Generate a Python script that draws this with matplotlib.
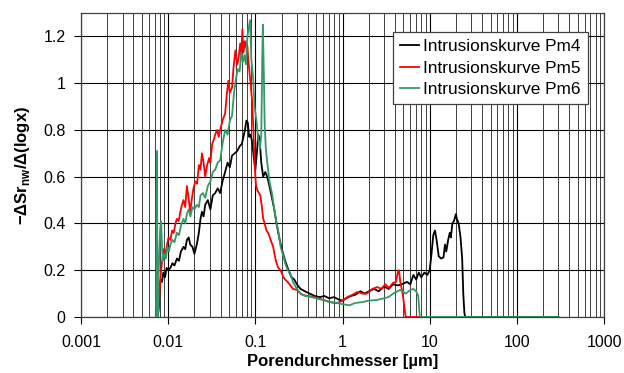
import matplotlib
matplotlib.use("Agg")
import matplotlib.pyplot as plt
from matplotlib.ticker import LogLocator, FixedLocator, NullFormatter

plt.rcParams['font.family'] = ['Liberation Sans', 'DejaVu Sans']
plt.rcParams['mathtext.fontset'] = 'custom'
plt.rcParams['mathtext.rm'] = 'Liberation Sans'

# Pore diameter [µm] and -ΔSr_nw/Δ(log x) for each intrusion curve
pm4_d = [0.0076, 0.0078, 0.0080, 0.0082, 0.0085, 0.0088, 0.0092, 0.0096, 0.0100, 0.0106,
         0.0112, 0.0118, 0.0126, 0.0133, 0.0140, 0.0150, 0.0157, 0.0164, 0.0172, 0.0179,
         0.0190, 0.0200, 0.0213, 0.0225, 0.0235, 0.0244, 0.0255, 0.0266, 0.0285, 0.0305,
         0.0325, 0.0346, 0.037, 0.0395, 0.042, 0.045, 0.048, 0.051, 0.054, 0.058,
         0.062, 0.066, 0.070, 0.073, 0.076, 0.079, 0.082, 0.085, 0.088, 0.092,
         0.096, 0.100, 0.104, 0.108, 0.112, 0.117, 0.123, 0.130, 0.137, 0.145,
         0.155, 0.165, 0.175, 0.19, 0.205, 0.22, 0.24, 0.26, 0.28, 0.30,
         0.33, 0.37, 0.42, 0.48, 0.55, 0.62, 0.70, 0.80, 0.90, 1.0,
         1.1, 1.25, 1.4, 1.6, 1.8, 2.0, 2.3, 2.6, 3.0, 3.4,
         3.8, 4.3, 4.8, 5.5, 6.0, 6.5, 7.0, 7.5, 8.0, 8.7,
         9.4, 10.0, 10.5, 11.0, 11.5, 12.0, 12.7, 13.5, 14.4, 15.0,
         15.5, 16.3, 17.0, 17.5, 18.2, 19.0, 20.0, 20.5, 21.5, 22.6,
         23.6, 24.3, 25.0, 25.5, 300.0]
pm4_v = [0.0, 0.04, 0.13, 0.16, 0.15, 0.19, 0.17, 0.21, 0.20, 0.21,
         0.23, 0.22, 0.25, 0.24, 0.28, 0.30, 0.29, 0.33, 0.34, 0.31,
         0.30, 0.27, 0.31, 0.36, 0.42, 0.45, 0.43, 0.48, 0.50, 0.46,
         0.52, 0.53, 0.55, 0.53, 0.58, 0.62, 0.66, 0.64, 0.69, 0.70,
         0.71, 0.73, 0.74, 0.77, 0.80, 0.84, 0.83, 0.77, 0.78, 0.75,
         0.68, 0.63, 0.70, 0.78, 0.76, 0.66, 0.60, 0.62, 0.60, 0.56,
         0.51, 0.46, 0.40, 0.33, 0.28, 0.24, 0.20, 0.17, 0.16, 0.14,
         0.12, 0.11, 0.10, 0.09, 0.085, 0.09, 0.08, 0.085, 0.075, 0.07,
         0.08, 0.09, 0.095, 0.11, 0.10, 0.11, 0.12, 0.11, 0.13, 0.12,
         0.14, 0.135, 0.14, 0.15, 0.14, 0.18, 0.16, 0.19, 0.17, 0.19,
         0.18, 0.20, 0.27, 0.35, 0.37, 0.33, 0.26, 0.25, 0.255, 0.31,
         0.28, 0.33, 0.36, 0.34, 0.40, 0.41, 0.44, 0.42, 0.40, 0.34,
         0.25, 0.10, 0.02, 0.0, 0.0]

pm5_d = [0.0076, 0.0078, 0.0080, 0.0083, 0.0086, 0.0089, 0.0093, 0.0097, 0.0101, 0.0106,
         0.0111, 0.0116, 0.0121, 0.0126, 0.0132, 0.0138, 0.0144, 0.0150, 0.0157, 0.0164,
         0.0170, 0.0179, 0.0186, 0.0195, 0.0205, 0.0215, 0.0225, 0.0235, 0.0244, 0.0255,
         0.0266, 0.0280, 0.0295, 0.0305, 0.0320, 0.0335, 0.0346, 0.0365, 0.0380, 0.0395,
         0.042, 0.045, 0.047, 0.049, 0.051, 0.054, 0.056, 0.059, 0.062, 0.064,
         0.067, 0.069, 0.071, 0.073, 0.076, 0.079, 0.081, 0.083, 0.085, 0.088,
         0.092, 0.095, 0.097, 0.100, 0.102, 0.106, 0.110, 0.114, 0.119, 0.123,
         0.128, 0.134, 0.140, 0.150, 0.160, 0.172, 0.183, 0.195, 0.21, 0.22,
         0.235, 0.25, 0.27, 0.30, 0.33, 0.35, 0.40, 0.46, 0.52, 0.60,
         0.70, 0.80, 0.87, 1.0, 1.15, 1.3, 1.48, 1.7, 1.9, 2.2,
         2.5, 2.8, 3.1, 3.4, 3.8, 4.1, 4.3, 4.45, 4.6, 4.9,
         5.1, 5.3, 8.0]
pm5_v = [0.0, 0.05, 0.12, 0.20, 0.25, 0.29, 0.27, 0.31, 0.34, 0.33,
         0.37, 0.36, 0.40, 0.42, 0.41, 0.45, 0.48, 0.50, 0.47, 0.56,
         0.52, 0.45, 0.50, 0.55, 0.58, 0.57, 0.65, 0.63, 0.70, 0.66,
         0.60, 0.65, 0.68, 0.66, 0.74, 0.76, 0.78, 0.80, 0.77, 0.80,
         0.84, 0.87, 0.95, 1.01, 0.96, 0.98, 1.06, 1.14, 1.08, 1.10,
         1.17, 1.12, 1.23, 1.13, 1.18, 1.15, 1.16, 1.10, 1.06, 1.00,
         0.92, 0.80, 0.70, 0.60, 0.56, 0.54, 0.53, 0.52, 0.47, 0.42,
         0.40, 0.37, 0.36, 0.33, 0.30, 0.24, 0.21, 0.20, 0.17, 0.16,
         0.15, 0.137, 0.12, 0.116, 0.10, 0.094, 0.09, 0.086, 0.08, 0.073,
         0.065, 0.06, 0.06, 0.07, 0.086, 0.095, 0.107, 0.10, 0.10, 0.12,
         0.128, 0.12, 0.14, 0.124, 0.146, 0.15, 0.19, 0.20, 0.15, 0.10,
         0.05, 0.0, 0.0]

pm6_d = [0.0072, 0.0073, 0.0074, 0.00745, 0.0075, 0.0076, 0.0077, 0.0079, 0.0081, 0.0083,
         0.0085, 0.0087, 0.0090, 0.0094, 0.0098, 0.0102, 0.0106, 0.0112, 0.0118, 0.0126,
         0.0133, 0.0140, 0.0150, 0.0157, 0.0164, 0.0172, 0.0180, 0.0190, 0.0200, 0.0213,
         0.0225, 0.0235, 0.0250, 0.0266, 0.0285, 0.0305, 0.0325, 0.0346, 0.037, 0.0395,
         0.042, 0.045, 0.048, 0.051, 0.054, 0.057, 0.060, 0.063, 0.066, 0.069,
         0.072, 0.075, 0.078, 0.081, 0.087, 0.090, 0.094, 0.098, 0.103, 0.108,
         0.113, 0.117, 0.120, 0.122, 0.125, 0.128, 0.132, 0.138, 0.145, 0.155,
         0.165, 0.175, 0.185, 0.195, 0.21, 0.22, 0.235, 0.25, 0.27, 0.30,
         0.33, 0.37, 0.43, 0.50, 0.6, 0.7, 0.87, 1.0, 1.2, 1.4,
         1.7, 2.0, 2.5, 3.0, 3.4, 3.8, 4.3, 4.6, 5.3, 6.0,
         6.5, 7.0, 7.4, 7.7, 300.0]
pm6_v = [0.0, 0.0, 0.43, 0.71, 0.30, 0.0, 0.12, 0.27, 0.38, 0.41,
         0.30, 0.24, 0.27, 0.25, 0.30, 0.28, 0.31, 0.33, 0.32, 0.36,
         0.35, 0.39, 0.42, 0.40, 0.44, 0.46, 0.43, 0.47, 0.46, 0.48,
         0.47, 0.52, 0.53, 0.51, 0.56, 0.58, 0.62, 0.63, 0.66, 0.67,
         0.74, 0.80, 0.78, 0.84, 0.86, 0.96, 1.02, 1.06, 1.05, 1.13,
         1.09, 1.12, 1.08, 1.20, 1.27, 1.10, 1.03, 0.90, 0.84, 0.76,
         0.72, 0.78, 1.10, 1.25, 1.05, 0.82, 0.72, 0.65, 0.58, 0.53,
         0.46, 0.40, 0.36, 0.30, 0.26, 0.23, 0.20, 0.19, 0.15, 0.12,
         0.10, 0.09, 0.086, 0.08, 0.073, 0.065, 0.06, 0.055, 0.05, 0.06,
         0.064, 0.07, 0.073, 0.08, 0.086, 0.10, 0.11, 0.116, 0.10, 0.115,
         0.12, 0.11, 0.09, 0.0, 0.0]

x_ticks = [0.001, 0.01, 0.1, 1, 10, 100, 1000]
x_ticklabels = ['0.001', '0.01', '0.1', '1', '10', '100', '1000']
y_ticks = [0, 0.2, 0.4, 0.6, 0.8, 1.0, 1.2]
y_ticklabels = ['0', '0.2', '0.4', '0.6', '0.8', '1', '1.2']

fig = plt.figure(figsize=(6.24, 3.73), dpi=100)
ax = fig.add_axes([81 / 624, 1 - 317 / 373, 523 / 624, 304 / 373])

ax.set_xscale('log')
ax.set_xlim(0.001, 1000)
ax.set_ylim(0, 1.3)

ax.xaxis.set_major_locator(FixedLocator(x_ticks))
ax.set_xticks(x_ticks)
ax.set_xticklabels(x_ticklabels)
ax.xaxis.set_minor_locator(LogLocator(base=10, subs=range(2, 10)))
ax.xaxis.set_minor_formatter(NullFormatter())
ax.set_yticks(y_ticks)
ax.set_yticklabels(y_ticklabels)

ax.grid(True, which='major', axis='both', color='black', linewidth=0.8)
ax.grid(True, which='minor', axis='x', color='#404040', linewidth=0.7)
ax.set_axisbelow(True)

ax.tick_params(axis='both', which='major', direction='out', length=5, width=0.8,
               labelsize=11.5, color='black')
ax.tick_params(axis='x', which='major', pad=8)
ax.tick_params(axis='y', which='major', pad=6)
ax.tick_params(axis='x', which='minor', length=0)

for s in ax.spines.values():
    s.set_color('#404040')
    s.set_linewidth(0.9)

ax.plot(pm4_d, pm4_v, color='black', lw=1.3, label='Intrusionskurve Pm4')
ax.plot(pm5_d, pm5_v, color='#ff0000', lw=1.3, label='Intrusionskurve Pm5')
ax.plot(pm6_d, pm6_v, color='#339966', lw=1.3, label='Intrusionskurve Pm6')

ax.set_xlabel('Porendurchmesser [µm]', fontsize=12, fontweight='bold', labelpad=3)
ax.set_ylabel('−ΔSr$_{\\mathregular{nw}}$/Δ(logx)', fontsize=12, fontweight='bold', labelpad=8)

leg = ax.legend(loc='upper right', bbox_to_anchor=(0.969, 0.9375), borderaxespad=0,
                fontsize=12.4, frameon=True, fancybox=False, framealpha=1,
                edgecolor='#404040', handlelength=1.1, handletextpad=0.25,
                labelspacing=0.38, borderpad=0.4)
leg.get_frame().set_linewidth(0.9)

fig.savefig('out.png', dpi=100)
